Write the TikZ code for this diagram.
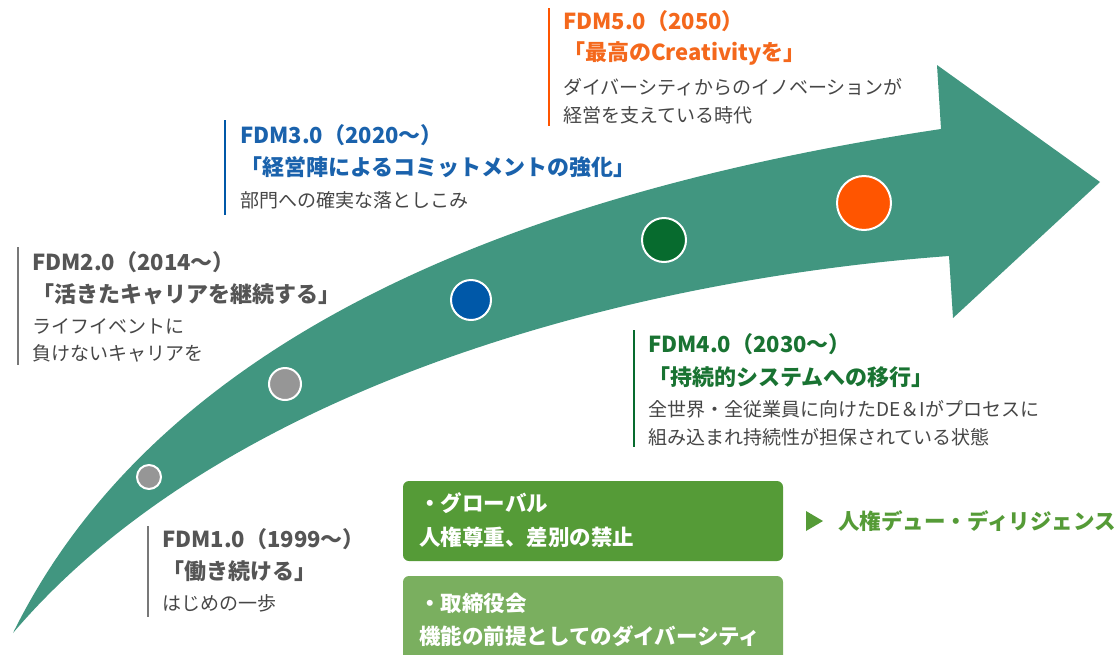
\documentclass[tikz,border=0pt]{standalone}
\usepackage{fontspec}
\newfontfamily\jp{Noto Sans CJK JP}
\usetikzlibrary{positioning}
\definecolor{arrowcol}{RGB}{65,150,128}
\definecolor{orangeT}{RGB}{244,104,28}
\definecolor{orangeC}{RGB}{255,85,0}
\definecolor{blueT}{RGB}{26,98,172}
\definecolor{blueC}{RGB}{0,88,168}
\definecolor{greenT}{RGB}{25,115,50}
\definecolor{greenC}{RGB}{7,107,46}
\definecolor{grayT}{RGB}{85,85,85}
\definecolor{bodyT}{RGB}{70,70,70}
\definecolor{grayC}{RGB}{150,150,150}
\definecolor{grayBar}{RGB}{120,120,120}
\definecolor{boxA}{RGB}{85,155,55}
\definecolor{boxB}{RGB}{122,175,95}
\begin{document}
\begin{tikzpicture}[x=1pt,y=-1pt,
  title/.style={anchor=west,inner sep=0pt,font=\jp\fontsize{22}{22}\selectfont\bfseries},
  body/.style={anchor=west,inner sep=0pt,text=bodyT,font=\jp\fontsize{19}{19}\selectfont},
  boxtxt/.style={anchor=west,inner sep=0pt,text=white,font=\jp\fontsize{21.5}{21.5}\selectfont\bfseries},
  dot/.style={circle,draw=white,line width=2pt,inner sep=0pt},
  bar/.style={line width=2.6pt},
  gbox/.style={rounded corners=6pt,draw=none,inner sep=0pt}
]
\useasboundingbox (0,0) rectangle (1119,654);

% big curved arrow
\fill[arrowcol] (13,633) .. controls (160,335) and (520,192) .. (941,129)
  -- (937,65) -- (1100,182) -- (953,318) -- (949,256)
  .. controls (620,280) and (220,390) .. (13,633) -- cycle;

% milestone dots
\node[dot,fill=grayC,minimum size=24pt] (d1) at (149,477) {};
\node[dot,fill=grayC,minimum size=32pt] (d2) at (285,384) {};
\node[dot,fill=blueC,minimum size=40pt] (d3) at (471,300) {};
\node[dot,fill=greenC,minimum size=44pt] (d4) at (664,240) {};
\node[dot,fill=orangeC,minimum size=54pt] (d5) at (864,203) {};

% FDM5.0
\draw[bar,draw=orangeC] (549,8) -- (549,126);
\node[title,text=orangeT] (t5a) at (563,21) {FDM5.0（2050）};
\node[title,text=orangeT] (t5b) at (563,53) {「最高のCreativityを」};
\node[body] (t5c) at (563,87) {ダイバーシティからのイノベーションが};
\node[body] (t5d) at (563,115) {経営を支えている時代};

% FDM3.0
\draw[bar,draw=blueC] (225,120) -- (225,215);
\node[title,text=blueT] (t3a) at (240,135) {FDM3.0（2020～）};
\node[title,text=blueT] (t3b) at (240,167) {「経営陣によるコミットメントの強化」};
\node[body] (t3c) at (240,200) {部門への確実な落としこみ};

% FDM2.0
\draw[bar,draw=grayBar] (18,247) -- (18,365);
\node[title,text=grayT] (t2a) at (32,262) {FDM2.0（2014～）};
\node[title,text=grayT] (t2b) at (32,294) {「活きたキャリアを継続する」};
\node[body] (t2c) at (32,326) {ライフイベントに};
\node[body] (t2d) at (32,353) {負けないキャリアを};

% FDM4.0
\draw[bar,draw=greenC] (634,330) -- (634,447);
\node[title,text=greenT] (t4a) at (648,344) {FDM4.0（2030～）};
\node[title,text=greenT] (t4b) at (648,377) {「持続的システムへの移行」};
\node[body] (t4c) at (648,409) {全世界・全従業員に向けたDE＆Iがプロセスに};
\node[body] (t4d) at (648,437) {組み込まれ持続性が担保されている状態};

% FDM1.0
\draw[bar,draw=grayBar] (148,526) -- (148,617);
\node[title,text=grayT] (t1a) at (162,539) {FDM1.0（1999～）};
\node[title,text=grayT] (t1b) at (162,571) {「働き続ける」};
\node[body] (t1c) at (162,603) {はじめの一歩};

% green boxes
\fill[gbox,boxA] (403,481) rectangle (783,561);
\fill[gbox,boxB] (403,576) rectangle (783,662);
\node[boxtxt] (b1a) at (419,503) {・グローバル};
\node[boxtxt] (b1b) at (419,537) {人権尊重、差別の禁止};
\node[boxtxt] (b2a) at (419,603) {・取締役会};
\node[boxtxt] (b2b) at (419,636) {機能の前提としてのダイバーシティ};

% right label
\fill[boxA] (806,511) -- (823,521) -- (806,531) -- cycle;
\node[anchor=west,inner sep=0pt,text=boxA,font=\jp\fontsize{21.5}{21.5}\selectfont\bfseries] (dd) at (838,521) {人権デュー・ディリジェンス};
\end{tikzpicture}
\end{document}
